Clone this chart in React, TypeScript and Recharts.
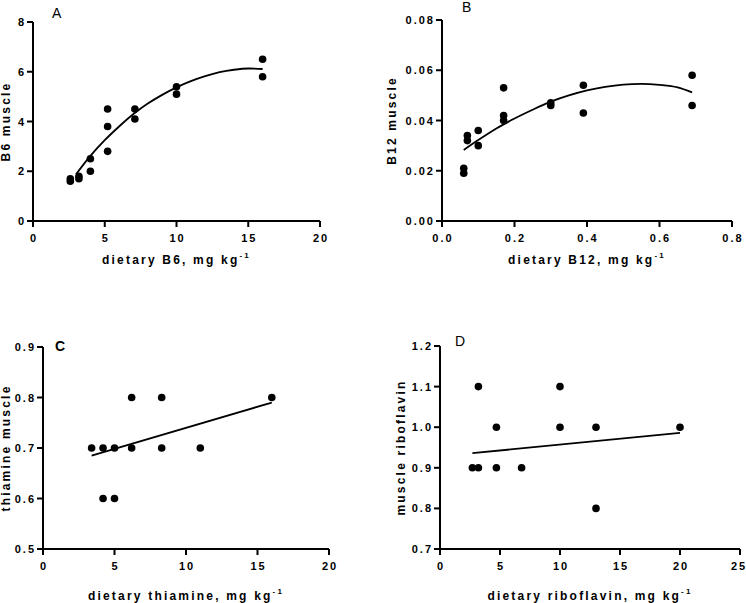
import { ComposedChart, Line, Scatter, XAxis, YAxis } from 'recharts';

// Panel A - B6
const b6Dose = [2.6, 2.6, 3.2, 3.2, 4, 4, 5.2, 5.2, 5.2, 7.1, 7.1, 10, 10, 16, 16];
const b6Muscle = [1.7, 1.6, 1.8, 1.7, 2.5, 2.0, 4.5, 3.8, 2.8, 4.5, 4.1, 5.4, 5.1, 6.5, 5.8];
const b6FitDose = [3, 4, 5, 6, 7, 8, 9, 10, 11, 12, 13, 14, 15, 16];
const b6FitMuscle = [1.88, 2.62, 3.25, 3.8, 4.3, 4.72, 5.07, 5.37, 5.62, 5.82, 5.98, 6.08, 6.13, 6.11];

// Panel B - B12
const b12Dose = [0.06, 0.06, 0.07, 0.07, 0.1, 0.1, 0.17, 0.17, 0.17, 0.3, 0.3, 0.39, 0.39, 0.69, 0.69];
const b12Muscle = [0.021, 0.019, 0.034, 0.032, 0.036, 0.03, 0.053, 0.042, 0.04, 0.047, 0.046, 0.054, 0.043, 0.058, 0.046];
const b12FitDose = [0.06, 0.1, 0.15, 0.2, 0.25, 0.3, 0.35, 0.4, 0.45, 0.5, 0.55, 0.6, 0.65, 0.69];
const b12FitMuscle = [0.0283, 0.0322, 0.0368, 0.0408, 0.0443, 0.0475, 0.05, 0.052, 0.0534, 0.0543, 0.0546, 0.0542, 0.0532, 0.0512];

// Panel C - thiamine
const thiDose = [3.4, 4.2, 4.2, 5, 5, 6.2, 6.2, 8.3, 8.3, 11, 16];
const thiMuscle = [0.7, 0.7, 0.6, 0.7, 0.6, 0.8, 0.7, 0.8, 0.7, 0.7, 0.8];
const thiFitDose = [3.4, 16];
const thiFitMuscle = [0.685, 0.79];

// Panel D - riboflavin
const riboDose = [2.7, 3.2, 3.2, 4.7, 4.7, 6.8, 10, 10, 13, 13, 20];
const riboMuscle = [0.9, 0.9, 1.1, 1.0, 0.9, 0.9, 1.1, 1.0, 1.0, 0.8, 1.0];
const riboFitDose = [2.7, 20];
const riboFitMuscle = [0.936, 0.986];

const FONT = '"Liberation Sans", Arial, sans-serif';

const zip = (xs: number[], ys: number[]) => xs.map((x, i) => ({ x, y: ys[i] }));

interface PanelProps {
  left: number;
  top: number;
  width: number;
  height: number;
  yAxisWidth: number;
  marginTop: number;
  marginRight: number;
  xAxisHeight: number;
  points: { x: number; y: number }[];
  fit: { x: number; y: number }[];
  xDomain: [number, number];
  xTicks: number[];
  xDec: number;
  yDomain: [number, number];
  yTicks: number[];
  yDec: number;
  xTitle: string;
  xTitleOffset: number;
  yTitle: string;
  yTitleX: number;
  letter: string;
  letterX: number;
  letterY: number;
  letterBold?: boolean;
}

const tickText = { fontFamily: FONT, fontWeight: 'bold' as const, fontSize: 11, letterSpacing: '2px' };
const titleText = { fontFamily: FONT, fontWeight: 'bold' as const, fontSize: 12, letterSpacing: '2.2px' };

function Panel(p: PanelProps) {
  const axisStyle = { stroke: '#000', strokeWidth: 2 };

  const XTick = (t: any) => (
    <text x={t.x + 1} y={t.y} dy={12} textAnchor="middle" fill="#000" style={tickText}>
      {Number(t.payload.value).toFixed(p.xDec)}
    </text>
  );
  const YTick = (t: any) => (
    <text x={t.x + 2} y={t.y} dy={4} textAnchor="end" fill="#000" style={tickText}>
      {Number(t.payload.value).toFixed(p.yDec)}
    </text>
  );

  return (
    <div style={{ position: 'absolute', left: p.left, top: p.top }}>
      <ComposedChart
        width={p.width}
        height={p.height}
        margin={{ top: p.marginTop, right: p.marginRight, bottom: 0, left: 0 }}
      >
        <XAxis
          type="number"
          dataKey="x"
          domain={p.xDomain}
          ticks={p.xTicks}
          allowDataOverflow
          tick={XTick}
          axisLine={axisStyle}
          tickLine={axisStyle}
          tickSize={6}
          tickMargin={3}
          height={p.xAxisHeight}
          label={{
            content: (props: any) => {
              const vb = props.viewBox;
              return (
                <text
                  x={vb.x + vb.width / 2}
                  y={vb.y + p.xTitleOffset}
                  textAnchor="middle"
                  fill="#000"
                  style={titleText}
                >
                  {p.xTitle}
                  <tspan dy={-6} fontSize={8}>-1</tspan>
                </text>
              );
            },
          }}
        />
        <YAxis
          type="number"
          dataKey="y"
          domain={p.yDomain}
          ticks={p.yTicks}
          allowDataOverflow
          tick={YTick}
          axisLine={axisStyle}
          tickLine={axisStyle}
          tickSize={6}
          tickMargin={3}
          width={p.yAxisWidth}
          label={{
            content: (props: any) => {
              const vb = props.viewBox;
              const cy = vb.y + vb.height / 2;
              return (
                <text
                  x={p.yTitleX}
                  y={cy}
                  transform={`rotate(-90 ${p.yTitleX} ${cy})`}
                  textAnchor="middle"
                  dominantBaseline="central"
                  fill="#000"
                  style={titleText}
                >
                  {p.yTitle}
                </text>
              );
            },
          }}
        />
        <Scatter
          data={p.points}
          fill="#000"
          isAnimationActive={false}
          shape={(s: any) => <circle cx={s.cx} cy={s.cy} r={3.8} fill="#000" />}
        />
        <Line
          data={p.fit}
          dataKey="y"
          type="monotone"
          stroke="#000"
          strokeWidth={1.8}
          dot={false}
          activeDot={false}
          isAnimationActive={false}
        />
      </ComposedChart>
      <div
        style={{
          position: 'absolute',
          left: p.letterX,
          top: p.letterY,
          fontFamily: FONT,
          fontSize: 14,
          fontWeight: p.letterBold ? 'bold' : 'normal',
          lineHeight: 1,
        }}
      >
        {p.letter}
      </div>
    </div>
  );
}

export default function App() {
  return (
    <div style={{ position: 'absolute', left: 0, top: 0, width: 746, height: 603, background: '#fff' }}>
      <Panel
        left={0}
        top={0}
        width={340}
        height={290}
        yAxisWidth={33}
        marginTop={22}
        marginRight={20}
        xAxisHeight={69}
        points={zip(b6Dose, b6Muscle)}
        fit={zip(b6FitDose, b6FitMuscle)}
        xDomain={[0, 20]}
        xTicks={[0, 5, 10, 15, 20]}
        xDec={0}
        yDomain={[0, 8]}
        yTicks={[0, 2, 4, 6, 8]}
        yDec={0}
        xTitle="dietary B6, mg kg"
        xTitleOffset={43}
        yTitle="B6 muscle"
        yTitleX={6}
        letter="A"
        letterX={52}
        letterY={6}
      />
      <Panel
        left={370}
        top={0}
        width={376}
        height={290}
        yAxisWidth={72}
        marginTop={20}
        marginRight={14}
        xAxisHeight={69}
        points={zip(b12Dose, b12Muscle)}
        fit={zip(b12FitDose, b12FitMuscle)}
        xDomain={[0, 0.8]}
        xTicks={[0, 0.2, 0.4, 0.6, 0.8]}
        xDec={1}
        yDomain={[0, 0.08]}
        yTicks={[0, 0.02, 0.04, 0.06, 0.08]}
        yDec={2}
        xTitle="dietary B12, mg kg"
        xTitleOffset={43}
        yTitle="B12 muscle"
        yTitleX={22}
        letter="B"
        letterX={92}
        letterY={0}
      />
      <Panel
        left={0}
        top={300}
        width={340}
        height={303}
        yAxisWidth={43}
        marginTop={47}
        marginRight={11}
        xAxisHeight={54}
        points={zip(thiDose, thiMuscle)}
        fit={zip(thiFitDose, thiFitMuscle)}
        xDomain={[0, 20]}
        xTicks={[0, 5, 10, 15, 20]}
        xDec={0}
        yDomain={[0.5, 0.9]}
        yTicks={[0.5, 0.6, 0.7, 0.8, 0.9]}
        yDec={1}
        xTitle="dietary thiamine, mg kg"
        xTitleOffset={51}
        yTitle="thiamine muscle"
        yTitleX={6}
        letter="C"
        letterX={55}
        letterY={39}
        letterBold
      />
      <Panel
        left={370}
        top={300}
        width={376}
        height={303}
        yAxisWidth={70}
        marginTop={46}
        marginRight={6}
        xAxisHeight={54}
        points={zip(riboDose, riboMuscle)}
        fit={zip(riboFitDose, riboFitMuscle)}
        xDomain={[0, 25]}
        xTicks={[0, 5, 10, 15, 20, 25]}
        xDec={0}
        yDomain={[0.7, 1.2]}
        yTicks={[0.7, 0.8, 0.9, 1.0, 1.1, 1.2]}
        yDec={1}
        xTitle="dietary riboflavin, mg kg"
        xTitleOffset={51}
        yTitle="muscle riboflavin"
        yTitleX={31}
        letter="D"
        letterX={85}
        letterY={34}
      />
    </div>
  );
}
